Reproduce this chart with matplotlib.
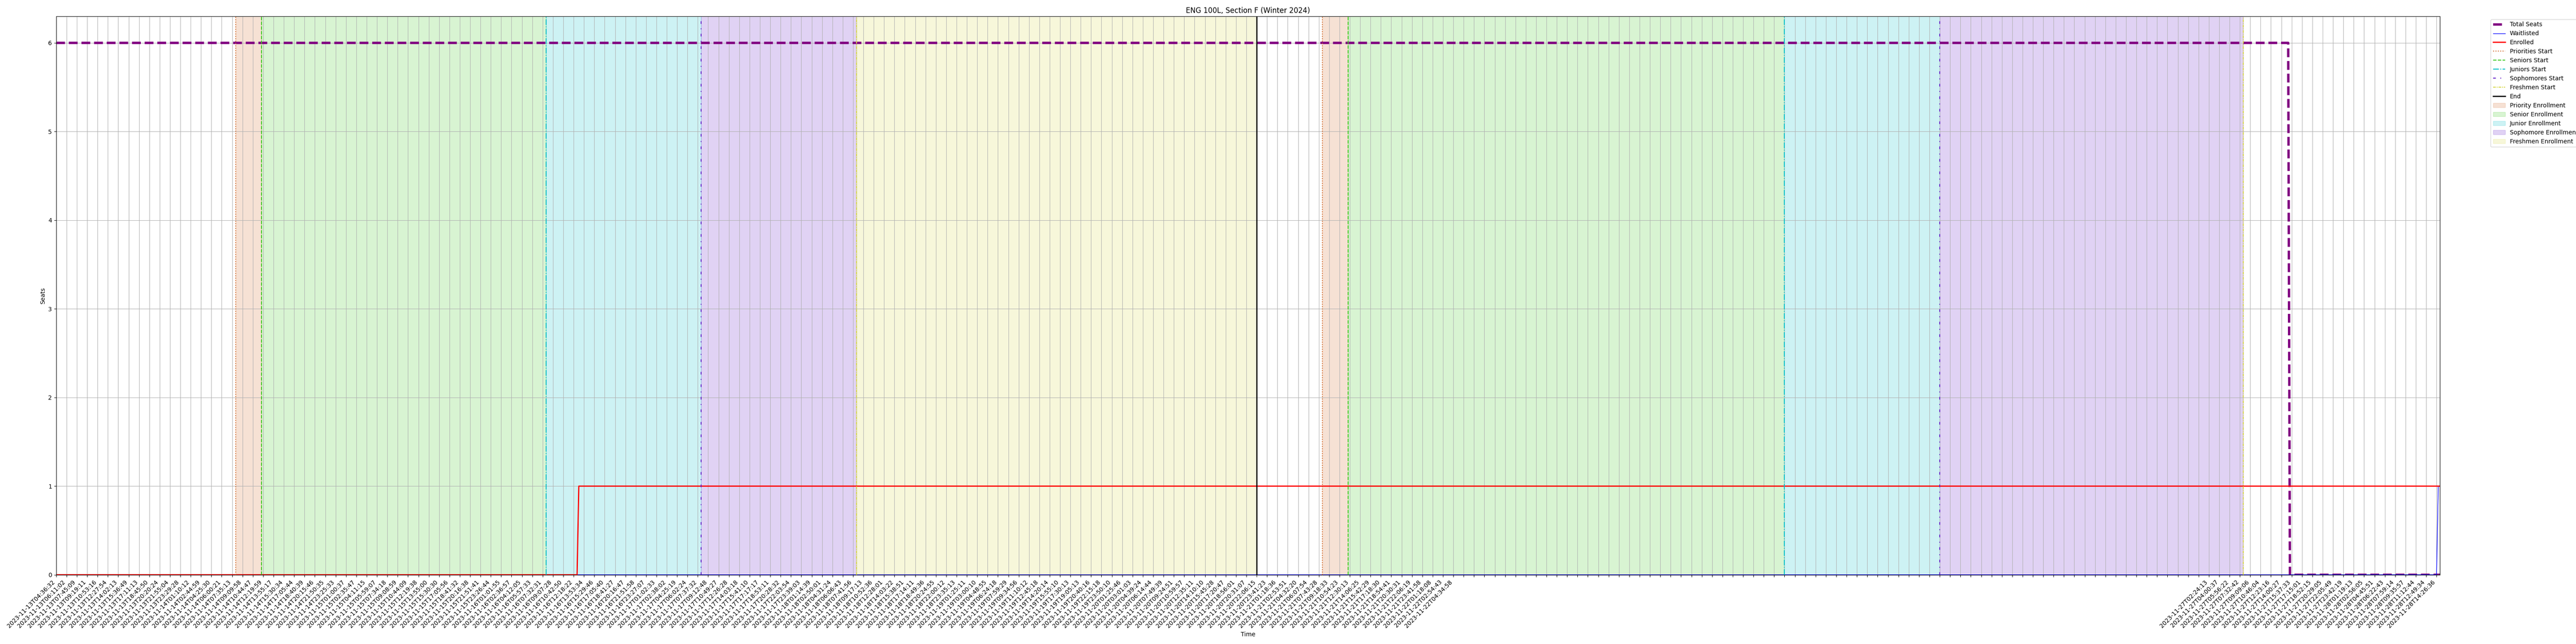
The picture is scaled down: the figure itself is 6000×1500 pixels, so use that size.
import matplotlib
matplotlib.use("Agg")
import matplotlib.pyplot as plt

# sampled timestamps shown on the x axis (one label every 6 samples)
tick_labels = [
    # 13th
    "2023-11-13T04:36:32", "2023-11-13T06:11:02", "2023-11-13T07:45:09", "2023-11-13T09:19:11",
    "2023-11-13T10:53:16", "2023-11-13T12:27:54", "2023-11-13T14:02:13", "2023-11-13T15:36:49",
    "2023-11-13T17:11:13", "2023-11-13T18:45:50", "2023-11-13T20:20:24", "2023-11-13T21:55:04",
    "2023-11-13T23:29:28",
    # 14th
    "2023-11-14T01:10:12", "2023-11-14T02:44:59", "2023-11-14T04:25:30", "2023-11-14T06:00:21",
    "2023-11-14T07:35:13", "2023-11-14T09:09:58", "2023-11-14T10:44:47", "2023-11-14T12:19:59",
    "2023-11-14T13:55:17", "2023-11-14T15:30:34", "2023-11-14T17:05:44", "2023-11-14T18:40:39",
    "2023-11-14T20:15:46", "2023-11-14T21:50:35", "2023-11-14T23:25:33",
    # 15th
    "2023-11-15T01:00:37", "2023-11-15T02:35:47", "2023-11-15T04:11:15", "2023-11-15T05:59:07",
    "2023-11-15T07:34:18", "2023-11-15T09:08:59", "2023-11-15T10:44:09", "2023-11-15T12:19:38",
    "2023-11-15T13:55:00", "2023-11-15T15:30:30", "2023-11-15T17:05:56", "2023-11-15T18:41:32",
    "2023-11-15T20:16:38", "2023-11-15T21:51:41", "2023-11-15T23:26:44",
    # 16th
    "2023-11-16T01:01:55", "2023-11-16T02:36:57", "2023-11-16T04:12:05", "2023-11-16T05:57:33",
    "2023-11-16T07:32:31", "2023-11-16T09:07:28", "2023-11-16T10:42:50", "2023-11-16T12:18:22",
    "2023-11-16T13:53:34", "2023-11-16T15:29:46", "2023-11-16T17:05:40", "2023-11-16T18:41:27",
    "2023-11-16T20:16:47", "2023-11-16T21:51:58", "2023-11-16T23:27:07",
    # 17th
    "2023-11-17T01:02:33", "2023-11-17T02:38:02", "2023-11-17T04:25:19", "2023-11-17T06:02:24",
    "2023-11-17T07:37:32", "2023-11-17T09:12:48", "2023-11-17T10:49:27", "2023-11-17T12:26:28",
    "2023-11-17T14:03:18", "2023-11-17T15:41:10", "2023-11-17T17:17:17", "2023-11-17T18:53:11",
    "2023-11-17T20:28:32", "2023-11-17T22:03:54", "2023-11-17T23:39:03",
    # 18th
    "2023-11-18T01:14:39", "2023-11-18T02:50:01", "2023-11-18T04:31:24", "2023-11-18T06:06:43",
    "2023-11-18T07:41:56", "2023-11-18T09:17:13", "2023-11-18T10:52:36", "2023-11-18T12:28:01",
    "2023-11-18T14:03:22", "2023-11-18T15:38:51", "2023-11-18T17:14:11", "2023-11-18T18:49:36",
    "2023-11-18T20:24:55", "2023-11-18T22:00:12", "2023-11-18T23:35:13",
    # 19th
    "2023-11-19T01:25:11", "2023-11-19T03:00:10", "2023-11-19T04:48:55", "2023-11-19T06:24:18",
    "2023-11-19T07:59:29", "2023-11-19T09:34:56", "2023-11-19T11:10:12", "2023-11-19T12:45:18",
    "2023-11-19T14:20:14", "2023-11-19T15:55:10", "2023-11-19T17:30:13", "2023-11-19T19:05:13",
    "2023-11-19T20:40:16", "2023-11-19T22:15:18", "2023-11-19T23:50:10",
    # 20th
    "2023-11-20T01:25:46", "2023-11-20T03:01:03", "2023-11-20T04:39:24", "2023-11-20T06:14:44",
    "2023-11-20T07:49:39", "2023-11-20T09:24:51", "2023-11-20T10:59:57", "2023-11-20T12:35:11",
    "2023-11-20T14:10:10", "2023-11-20T15:45:28", "2023-11-20T17:20:47", "2023-11-20T18:56:01",
    "2023-11-20T20:31:07", "2023-11-20T22:06:15", "2023-11-20T23:41:23",
    # 21st
    "2023-11-21T01:18:36", "2023-11-21T02:53:51", "2023-11-21T04:32:20", "2023-11-21T06:07:54",
    "2023-11-21T07:43:28", "2023-11-21T09:18:33", "2023-11-21T10:54:23", "2023-11-21T12:30:13",
    "2023-11-21T14:06:25", "2023-11-21T15:42:29", "2023-11-21T17:18:30", "2023-11-21T18:54:41",
    "2023-11-21T20:30:31", "2023-11-21T22:06:19", "2023-11-21T23:41:58",
    # 22nd
    "2023-11-22T01:18:08", "2023-11-22T02:54:43", "2023-11-22T04:34:58",
] + [""] * 72 + [
    # 27th
    "2023-11-27T02:24:13", "2023-11-27T04:00:37", "2023-11-27T05:56:22", "2023-11-27T07:32:42",
    "2023-11-27T09:09:06", "2023-11-27T10:46:04", "2023-11-27T12:23:16", "2023-11-27T14:00:27",
    "2023-11-27T15:37:33", "2023-11-27T17:15:01", "2023-11-27T18:52:15", "2023-11-27T20:29:05",
    "2023-11-27T22:05:49", "2023-11-27T23:42:19",
    # 28th
    "2023-11-28T01:19:13", "2023-11-28T02:56:05", "2023-11-28T04:45:51", "2023-11-28T06:22:43",
    "2023-11-28T07:59:14", "2023-11-28T09:35:57", "2023-11-28T11:12:44", "2023-11-28T12:49:34",
    "2023-11-28T14:26:36",
]

n_samples = 1383
label_every = 6

# series, stored as the sample indices where the value changes
seats_idx = [0, 1294, 1295, 1382]
seats_val = [6, 6, 0, 0]
waitlist_idx = [0, 1380, 1381, 1382]
waitlist_val = [0, 0, 1, 1]
enrolled_idx = [0, 302, 303, 1382]
enrolled_val = [0, 0, 1, 1]

# enrollment phase starts (sample index), two passes
priorities_start = [104, 734]
seniors_start = [119, 749]
juniors_start = [284, 1002]
sophomores_start = [374, 1092]
freshmen_start = [464, 1268]
end_time = [696]

fig, ax = plt.subplots(figsize=(60, 15), dpi=100)

ax.plot(seats_idx, seats_val, color="purple", linestyle="--", linewidth=4, label="Total Seats")
ax.plot(waitlist_idx, waitlist_val, color="blue", linewidth=1, label="Waitlisted")
ax.plot(enrolled_idx, enrolled_val, color="red", linewidth=2, label="Enrolled")

c_prio = "#D2692A"
c_sen = "#3CC81E"
c_jun = "#05BFC8"
c_soph = "#6420C8"
c_fresh = "#D7D746"

for i in range(len(priorities_start)):
    first = i == 0
    ax.axvline(priorities_start[i], color=c_prio, linestyle=":", linewidth=1.5,
               label="Priorities Start" if first else None)
    ax.axvline(seniors_start[i], color=c_sen, linestyle="--", linewidth=1.5,
               label="Seniors Start" if first else None)
    ax.axvline(juniors_start[i], color=c_jun, linestyle="-.", linewidth=1.5,
               label="Juniors Start" if first else None)
    ax.axvline(sophomores_start[i], color=c_soph, linestyle=(0, (3, 5, 1, 5)), linewidth=1.5,
               label="Sophomores Start" if first else None)
    ax.axvline(freshmen_start[i], color=c_fresh, linestyle=(0, (3, 1, 1, 1)), linewidth=1.5,
               label="Freshmen Start" if first else None)
for e in end_time:
    ax.axvline(e, color="black", linewidth=2, label="End")

for i in range(len(priorities_start)):
    first = i == 0
    ax.axvspan(priorities_start[i], seniors_start[i], color=c_prio, alpha=0.2,
               label="Priority Enrollment" if first else None)
    ax.axvspan(seniors_start[i], juniors_start[i], color=c_sen, alpha=0.2,
               label="Senior Enrollment" if first else None)
    ax.axvspan(juniors_start[i], sophomores_start[i], color=c_jun, alpha=0.2,
               label="Junior Enrollment" if first else None)
    ax.axvspan(sophomores_start[i], freshmen_start[i], color=c_soph, alpha=0.2,
               label="Sophomore Enrollment" if first else None)
    if i < len(end_time):
        ax.axvspan(freshmen_start[i], end_time[i], color=c_fresh, alpha=0.2,
                   label="Freshmen Enrollment" if first else None)

ax.set_xticks(range(0, n_samples, label_every)[:len(tick_labels)])
ax.set_xticklabels(tick_labels, rotation=45, ha="right")
ax.set_xlim(0, n_samples - 1)
ax.set_ylim(bottom=0)
ax.grid(True)
ax.set_xlabel("Time")
ax.set_ylabel("Seats")
ax.set_title("ENG 100L, Section F (Winter 2024)")
ax.legend(bbox_to_anchor=(1.02, 1), loc="upper left")

plt.subplots_adjust(left=0.0218, right=0.9472, top=0.9747, bottom=0.1075)
plt.savefig("out.png")
